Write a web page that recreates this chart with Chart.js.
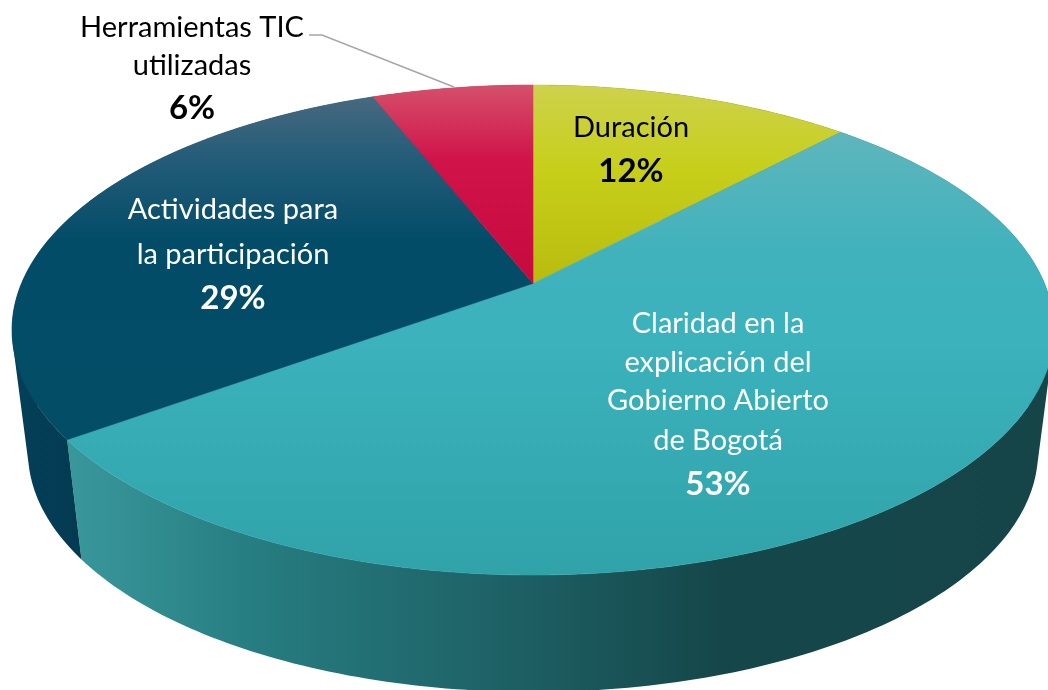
<!DOCTYPE html>
<html>
<head>
<meta charset="utf-8">
<title>Pie</title>
<script src="https://cdn.jsdelivr.net/npm/chart.js@4/dist/chart.umd.js"></script>
<style>
  html, body { margin: 0; padding: 0; background: #fff; }
  canvas { display: block; }
</style>
</head>
<body>
<canvas id="myChart" width="1048" height="690"></canvas>
<script>
const categories = ["Duración", "Claridad en la explicación del Gobierno Abierto de Bogotá", "Actividades para la participación", "Herramientas TIC utilizadas"];
const values = [12, 53, 29, 6];

// label lines as they are broken in the picture
const labelLines = [
  ["Duración"],
  ["Claridad en la", "explicación del", "Gobierno Abierto", "de Bogotá"],
  ["Actividades para", "la participación"],
  ["Herramientas TIC", "utilizadas"],
];

const topGradients = [
  [[85, "#cdd24c"], [170, "#c7cf1a"], [285, "#b9bb0d"]],
  [[131, "#5fb6bc"], [250, "#41b2bc"], [340, "#3bb2bc"], [575, "#30a3a9"]],
  [[97, "#47697f"], [160, "#235c78"], [240, "#034c68"], [445, "#034d66"]],
  [[85, "#d5506a"], [160, "#d01349"], [285, "#c60a3e"]],
];
const wallGradients = [
  [[0, "#164548"], [1, "#164548"]],
  [[74, "#38979b"], [260, "#267c80"], [520, "#1d5f63"], [720, "#15474a"], [1048, "#164548"]],
  [[12, "#044058"], [85, "#033a52"]],
  [[0, "#164548"], [1, "#164548"]],
];
const textColors = ["#000", "#fff", "#fff", "#000"];
const labelSpots = [
  { x: 631, ys: [128], py: 171 },
  { x: 718, ys: [324, 363, 401, 441], py: 484 },
  { x: 233, ys: [210, 255], py: 298 },
  { x: 192, ys: [28, 66], py: 108 },
];

// tilted disc: a circle seen in perspective, so the middle sits above the ellipse centre
const TILT = -0.19;
const TOP_FACE = { cx: 533, cy: 330, rx: 521, ry: 245 };
const LOW_FACE = { cx: 533, cy: 452, rx: 505, ry: 240 };

function project(angle, face) {
  const X = Math.cos(angle);
  const Y = Math.sin(angle);
  const w = 1 + TILT * Y;
  const u = X * Math.sqrt(1 - TILT * TILT) / w;
  const v = (Y + TILT) / w;
  return { x: face.cx + face.rx * u, y: face.cy + face.ry * v };
}

function makeGradient(ctx, stops, horizontal) {
  const first = stops[0][0];
  const last = stops[stops.length - 1][0];
  const g = horizontal
    ? ctx.createLinearGradient(first, 0, last, 0)
    : ctx.createLinearGradient(0, first, 0, last);
  stops.forEach((s) => g.addColorStop((s[0] - first) / (last - first), s[1]));
  return g;
}

function addQuad(ctx, pts) {
  // all quads wound the same way, otherwise they cancel at the silhouette
  let area = 0;
  pts.forEach((p, n) => {
    const q = pts[(n + 1) % pts.length];
    area += p.x * q.y - q.x * p.y;
  });
  const list = area < 0 ? pts.slice().reverse() : pts;
  ctx.moveTo(list[0].x, list[0].y);
  list.slice(1).forEach((p) => ctx.lineTo(p.x, p.y));
  ctx.closePath();
}

function drawWall(ctx, arc, i) {
  const steps = Math.ceil((arc.endAngle - arc.startAngle) * 60);
  ctx.beginPath();
  for (let s = 0; s < steps; s++) {
    const a0 = arc.startAngle + (arc.endAngle - arc.startAngle) * s / steps;
    const a1 = arc.startAngle + (arc.endAngle - arc.startAngle) * (s + 1) / steps;
    addQuad(ctx, [project(a0, TOP_FACE), project(a1, TOP_FACE), project(a1, LOW_FACE), project(a0, LOW_FACE)]);
  }
  ctx.fillStyle = makeGradient(ctx, wallGradients[i], true);
  ctx.fill();
}

function drawTop(ctx, arc, i) {
  const steps = Math.ceil((arc.endAngle - arc.startAngle) * 120);
  // apex is where the circle's centre lands
  const apex = { x: TOP_FACE.cx, y: TOP_FACE.cy + TOP_FACE.ry * TILT };
  ctx.beginPath();
  ctx.moveTo(apex.x, apex.y);
  for (let s = 0; s <= steps; s++) {
    const p = project(arc.startAngle + (arc.endAngle - arc.startAngle) * s / steps, TOP_FACE);
    ctx.lineTo(p.x, p.y);
  }
  ctx.closePath();
  const g = makeGradient(ctx, topGradients[i], false);
  ctx.fillStyle = g;
  ctx.strokeStyle = g;
  ctx.lineWidth = 0.6;
  ctx.fill();
  ctx.stroke();
}

const disc3d = {
  id: "disc3d",
  beforeDatasetsDraw(chart) {
    const ctx = chart.ctx;
    const arcs = chart.getDatasetMeta(0).data;
    ctx.save();
    arcs.forEach((arc, i) => drawWall(ctx, arc, i));
    arcs.forEach((arc, i) => drawTop(ctx, arc, i));
    ctx.restore();
    return false;
  },
  afterDraw(chart) {
    const ctx = chart.ctx;
    ctx.save();
    // leader line of the small slice
    ctx.beginPath();
    ctx.moveTo(309, 35);
    ctx.lineTo(322, 35);
    ctx.lineTo(454, 87);
    ctx.strokeStyle = "#a6a6a6";
    ctx.lineWidth = 1.5;
    ctx.stroke();

    ctx.textAlign = "center";
    ctx.textBaseline = "middle";
    values.forEach((v, i) => {
      const spot = labelSpots[i];
      ctx.fillStyle = textColors[i];
      ctx.font = "29px Lato";
      labelLines[i].forEach((line, n) => ctx.fillText(line, spot.x, spot.ys[n]));
      ctx.font = "bold 33px Lato";
      ctx.fillText(v + "%", spot.x, spot.py);
    });
    ctx.restore();
  },
};

new Chart(document.querySelector("#myChart").getContext("2d"), {
  type: "pie",
  data: {
    labels: categories,
    datasets: [{ data: values, borderWidth: 0 }],
  },
  options: {
    responsive: false,
    animation: false,
    plugins: { legend: { display: false }, tooltip: { enabled: false } },
  },
  plugins: [disc3d],
});
</script>
</body>
</html>
